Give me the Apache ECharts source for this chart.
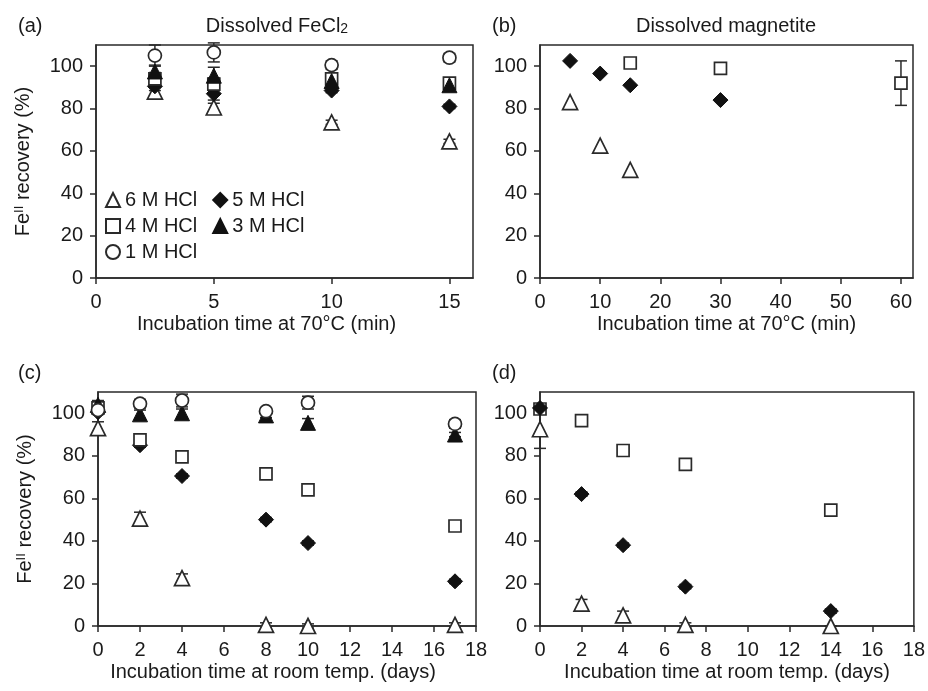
<!DOCTYPE html>
<html><head><meta charset="utf-8">
<script src="https://cdn.jsdelivr.net/npm/echarts@6/dist/echarts.min.js"></script>
<style>html,body{margin:0;padding:0;background:#fff}#c{width:928px;height:691px}</style>
</head><body><div id="c"></div>
<script>
// ---------- data ----------
const seriesNames = ['6 M HCl', '5 M HCl', '4 M HCl', '3 M HCl', '1 M HCl'];

// (a) Dissolved FeCl2, incubation at 70 °C (min)
const aTime = [2.5, 5, 10, 15];
const a6M = [88, 80.5, 73.5, 64.5];
const a5M = [90.5, 87, 88.5, 81];
const a4M = [94, 91.5, 94, 92];
const a3M = [97.5, 95.5, 93, 91];
const a1M = [105, 106.5, 100.5, 104];
const a6Merr = [2, 2, 1, 1];
const a5Merr = [2, 3, 1, 1];
const a4Merr = [3, 3, 2, 2];
const a3Merr = [3, 4, 2, 2];
const a1Merr = [5, 4.5, 2, 2];

// (b) Dissolved magnetite, incubation at 70 °C (min)
const b6Mtime = [5, 10, 15];
const b6M = [83, 62.5, 51];
const b5Mtime = [5, 10, 15, 30];
const b5M = [102.5, 96.5, 91, 84];
const b4Mtime = [15, 30, 60];
const b4M = [101.5, 99, 92];
const b4Merr = [1, 1, 10.5];

// (c) Dissolved FeCl2, room temperature (days)
const cTime = [0, 2, 4, 8, 10, 17];
const c6M = [93, 50.5, 22.5, 0.5, 0, 0.5];
const c5M = [100.5, 85, 70.5, 50, 39, 21];
const c4M = [102.5, 87.5, 79.5, 71.5, 64, 47];
const c3M = [104, 99.5, 100, 99, 95.5, 90];
const c1M = [101.5, 104.5, 106, 101, 105, 95];
const c6Merr = [3, 3, 2, 1, 1, 1];
const c5Merr = [1, 1, 1, 1, 1, 1];
const c4Merr = [2, 2, 1, 1, 1, 1];
const c3Merr = [2, 2, 2, 1, 2, 1];
const c1Merr = [2, 2, 3, 1, 3, 2];

// (d) Dissolved magnetite, room temperature (days)
const dTime = [0, 2, 4, 7, 14];
const d6M = [92.5, 10.5, 5, 0.5, 0];
const d5M = [102.5, 62, 38, 18.5, 7];
const d4M = [102, 96.5, 82.5, 76, 54.5];
const d6Merr = [9, 2, 2, 1, 0];
const d5Merr = [1, 1, 1, 1, 1];
const d4Merr = [2, 1, 1, 1, 1];

// tick values
const yTicks = [0, 20, 40, 60, 80, 100];
const aXTicks = [0, 5, 10, 15];
const bXTicks = [0, 10, 20, 30, 40, 50, 60];
const cdXTicks = [0, 2, 4, 6, 8, 10, 12, 14, 16, 18];

// ---------- styles ----------
const FONT = "'Liberation Sans', Arial, Helvetica, sans-serif";
const INK = '#1a1a1a';
const LINE = '#2a2a2a';
const symbolStyle = {
  '6 M HCl': { symbol: 'triangle', size: 15, itemStyle: { color: '#fff', borderColor: LINE, borderWidth: 1.7, opacity: 1 } },
  '5 M HCl': { symbol: 'diamond', size: 15, itemStyle: { color: '#111', borderColor: '#111', borderWidth: 1, opacity: 1 } },
  '4 M HCl': { symbol: 'rect', size: 12, itemStyle: { color: '#fff', borderColor: LINE, borderWidth: 1.7, opacity: 1 } },
  '3 M HCl': { symbol: 'triangle', size: 15, itemStyle: { color: '#111', borderColor: '#111', borderWidth: 1, opacity: 1 } },
  '1 M HCl': { symbol: 'circle', size: 13, itemStyle: { color: '#fff', borderColor: LINE, borderWidth: 1.7, opacity: 1 } }
};

function zip(xs, ys) { return xs.map((x, i) => [x, ys[i]]); }
function errData(xs, ys, es) { return xs.map((x, i) => [x, ys[i] - es[i], ys[i] + es[i]]); }

function scatter(name, xs, ys, g) {
  const s = symbolStyle[name];
  return {
    type: 'scatter', name, xAxisIndex: g, yAxisIndex: g, clip: false,
    symbol: s.symbol, symbolSize: s.size, itemStyle: s.itemStyle,
    emphasis: { disabled: true },
    data: zip(xs, ys), z: 3
  };
}
function errRender(params, api) {
  const x = api.value(0), lo = api.value(1), hi = api.value(2);
  const p1 = api.coord([x, hi]), p2 = api.coord([x, lo]);
  const w = 6;
  const style = { stroke: LINE, lineWidth: 1.5 };
  return { type: 'group', children: [
    { type: 'line', shape: { x1: p1[0], y1: p1[1], x2: p2[0], y2: p2[1] }, style },
    { type: 'line', shape: { x1: p1[0] - w, y1: p1[1], x2: p1[0] + w, y2: p1[1] }, style },
    { type: 'line', shape: { x1: p2[0] - w, y1: p2[1], x2: p2[0] + w, y2: p2[1] }, style }
  ]};
}
function errSeries(xs, ys, es, g) {
  return {
    type: 'custom', xAxisIndex: g, yAxisIndex: g, renderItem: errRender, clip: false,
    encode: { x: 0, y: [1, 2] }, data: errData(xs, ys, es), z: 2, silent: true
  };
}

function xAxis(g, max, ticks, name, pad) {
  return {
    type: 'value', gridIndex: g, min: 0, max: max,
    name: name, nameLocation: 'middle', nameGap: 36,
    nameTextStyle: { fontSize: 20, color: INK, fontFamily: FONT, padding: pad || 0 },
    axisLine: { show: true, onZero: false, lineStyle: { color: LINE, width: 1.5 } },
    axisTick: { show: true, length: 6, customValues: ticks, lineStyle: { color: LINE, width: 1.5 } },
    axisLabel: { fontSize: 20, color: INK, fontFamily: FONT, margin: 14, customValues: ticks },
    splitLine: { show: false }
  };
}
function yAxis(g, withName) {
  const ax = {
    type: 'value', gridIndex: g, min: 0, max: 110,
    axisLine: { show: true, onZero: false, lineStyle: { color: LINE, width: 1.5 } },
    axisTick: { show: true, length: 6, customValues: yTicks, lineStyle: { color: LINE, width: 1.5 } },
    axisLabel: { fontSize: 20, color: INK, fontFamily: FONT, margin: 13, customValues: yTicks },
    splitLine: { show: false }
  };
  if (withName) {
    ax.name = '{a|Fe}{s|II}{a| recovery (%)}';
    ax.nameLocation = 'middle';
    ax.nameGap = 63;
    ax.nameTextStyle = { fontFamily: FONT, color: INK, rich: {
      a: { fontSize: 20, color: INK, fontFamily: FONT },
      s: { fontSize: 13, color: INK, fontFamily: FONT, verticalAlign: 'top' }
    }};
  }
  return ax;
}

const gridStyle = { show: true, borderColor: LINE, borderWidth: 1.5, backgroundColor: 'transparent' };
const txt = { fontSize: 20, fontWeight: 'normal', color: INK, fontFamily: FONT };

const series = [
  // (a)
  errSeries(aTime, a6M, a6Merr, 0), errSeries(aTime, a5M, a5Merr, 0), errSeries(aTime, a4M, a4Merr, 0),
  errSeries(aTime, a3M, a3Merr, 0), errSeries(aTime, a1M, a1Merr, 0),
  scatter('6 M HCl', aTime, a6M, 0), scatter('5 M HCl', aTime, a5M, 0), scatter('4 M HCl', aTime, a4M, 0),
  scatter('3 M HCl', aTime, a3M, 0), scatter('1 M HCl', aTime, a1M, 0),
  // (b)
  errSeries(b4Mtime, b4M, b4Merr, 1),
  scatter('6 M HCl', b6Mtime, b6M, 1), scatter('5 M HCl', b5Mtime, b5M, 1), scatter('4 M HCl', b4Mtime, b4M, 1),
  // (c)
  errSeries(cTime, c6M, c6Merr, 2), errSeries(cTime, c5M, c5Merr, 2), errSeries(cTime, c4M, c4Merr, 2),
  errSeries(cTime, c3M, c3Merr, 2), errSeries(cTime, c1M, c1Merr, 2),
  scatter('6 M HCl', cTime, c6M, 2), scatter('5 M HCl', cTime, c5M, 2), scatter('4 M HCl', cTime, c4M, 2),
  scatter('3 M HCl', cTime, c3M, 2), scatter('1 M HCl', cTime, c1M, 2),
  // (d)
  errSeries(dTime, d6M, d6Merr, 3), errSeries(dTime, d5M, d5Merr, 3), errSeries(dTime, d4M, d4Merr, 3),
  scatter('6 M HCl', dTime, d6M, 3), scatter('4 M HCl', dTime, d4M, 3), scatter('5 M HCl', dTime, d5M, 3)
];

const legendBase = {
  orient: 'horizontal', left: 105, itemWidth: 14, itemHeight: 14, itemGap: 15, padding: 0,
  textStyle: { fontSize: 20, color: INK, fontFamily: FONT }, selectedMode: false
};

const option = {
  animation: false,
  backgroundColor: '#fff',
  textStyle: { fontFamily: FONT },
  title: [
    { text: '(a)', left: 13, top: 11, textStyle: txt },
    { text: '{m|Dissolved FeCl}{s|2}', left: 272, top: 11, textAlign: 'center',
      textStyle: { fontWeight: 'normal', rich: {
        m: { fontSize: 20, fontWeight: 'normal', color: INK, fontFamily: FONT },
        s: { fontSize: 14, fontWeight: 'normal', color: INK, fontFamily: FONT, verticalAlign: 'bottom' } } } },
    { text: '(b)', left: 487, top: 11, textStyle: txt },
    { text: 'Dissolved magnetite', left: 721, top: 11, textAlign: 'center', textStyle: txt },
    { text: '(c)', left: 13, top: 358, textStyle: txt },
    { text: '(d)', left: 487, top: 358, textStyle: txt }
  ],
  legend: [
    Object.assign({ top: 190, data: ['6 M HCl', '5 M HCl'] }, legendBase),
    Object.assign({ top: 216, data: ['4 M HCl', '3 M HCl'] }, legendBase),
    Object.assign({ top: 242, data: ['1 M HCl'] }, legendBase)
  ],
  grid: [
    Object.assign({ left: 96, top: 45, width: 377, height: 233 }, gridStyle),
    Object.assign({ left: 540, top: 45, width: 373, height: 233 }, gridStyle),
    Object.assign({ left: 98, top: 392, width: 378, height: 234 }, gridStyle),
    Object.assign({ left: 540, top: 392, width: 374, height: 234 }, gridStyle)
  ],
  xAxis: [
    xAxis(0, 16, aXTicks, 'Incubation time at 70°C (min)', [0, 36, 0, 0]),
    xAxis(1, 62, bXTicks, 'Incubation time at 70°C (min)'),
    xAxis(2, 18, cdXTicks, 'Incubation time at room temp. (days)', [0, 28, 0, 0]),
    xAxis(3, 18, cdXTicks, 'Incubation time at room temp. (days)')
  ],
  yAxis: [yAxis(0, true), yAxis(1, false), yAxis(2, true), yAxis(3, false)],
  series: series
};

const chart = echarts.init(document.getElementById('c'), null, { renderer: 'canvas' });
chart.setOption(option);
</script>
</body></html>
